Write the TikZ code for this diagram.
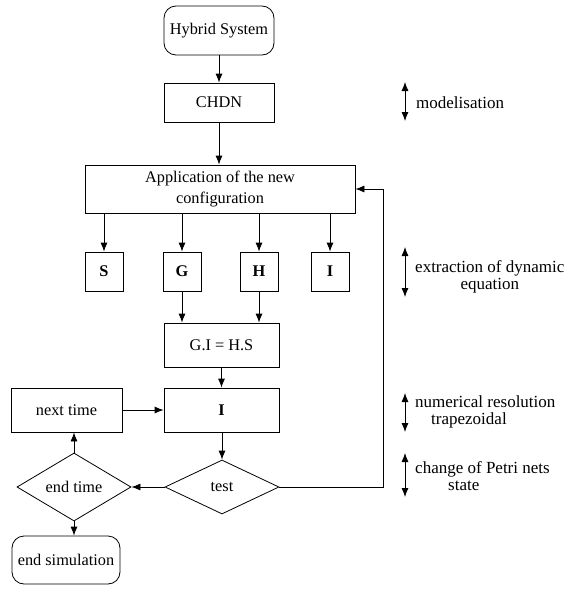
\documentclass[tikz,border=0pt]{standalone}
\usepackage{fontspec}
\setmainfont{Liberation Serif}
\usetikzlibrary{shapes.geometric,arrows.meta}

\begin{document}
\begin{tikzpicture}[x=1pt,y=-1pt,>={Latex[length=9pt,width=7pt]},
    every node/.style={font=\fontsize{16.3}{19}\selectfont},
    box/.style={draw, line width=0.8pt, inner sep=0pt},
    rbox/.style={box, rounded corners=12pt},
    mbox/.style={box, minimum width=38pt, minimum height=39pt, font=\fontsize{16.3}{19}\selectfont\bfseries},
    dmd/.style={draw, diamond, line width=0.8pt, inner sep=0pt},
    flow/.style={->, line width=0.8pt},
    side/.style={font=\fontsize{17}{17.5}\selectfont, anchor=west, inner sep=0pt}]

    \useasboundingbox (0,0) rectangle (576,589);

    % colonne principale
    \node[rbox, minimum width=110pt, minimum height=49pt] (hybrid) at (219,30.5) {Hybrid System};
    \node[box, minimum width=110pt, minimum height=39pt] (chdn) at (219,102.5) {CHDN};
    \node[box, minimum width=270pt, minimum height=48pt, align=center,
          font=\fontsize{16.3}{21}\selectfont] (app) at (220,189) {Application of the new\\configuration};

    % matrices
    \node[mbox] (S) at (104,271.5) {S};
    \node[mbox] (G) at (182,271.5) {G};
    \node[mbox] (H) at (259,271.5) {H};
    \node[mbox] (Ia) at (330,271.5) {I};

    \node[box, minimum width=115pt, minimum height=44pt] (eq) at (221.5,345) {G.I = H.S};
    \node[box, minimum width=115pt, minimum height=44pt, font=\fontsize{16.3}{19}\selectfont\bfseries] (Ib) at (221.5,410) {I};
    \node[box, minimum width=111pt, minimum height=44pt] (next) at (66.5,410) {next time};
    \node[dmd, minimum width=114pt, minimum height=54pt] (test) at (222,487) {test};
    \node[dmd, minimum width=114pt, minimum height=54pt] (endt) at (74,487) {end time};
    \node[rbox, minimum width=108pt, minimum height=48pt] (endsim) at (66,560) {end simulation};

    \draw[flow] (hybrid) -- (chdn);
    \draw[flow] (chdn) -- (chdn.south |- app.north);
    \foreach \m in {S,G,H,Ia}
        \draw[flow] (app.south -| \m.north) -- (\m.north);
    \draw[flow] (G.south) -- (G.south |- eq.north);
    \draw[flow] (H.south) -- (H.south |- eq.north);
    \draw[flow] (eq) -- (Ib);
    \draw[flow] (next) -- (Ib);
    \draw[flow] (Ib.south -| test.north) -- (test.north);
    \draw[flow] (test) -- (endt);
    \draw[flow] (endt.north) -- (endt.north |- next.south);
    \draw[flow] (endt.south) -- (endt.south |- endsim.north);

    % retour vers la configuration
    \coordinate (back) at (383,487);
    \draw[flow] (test.east) -- (back) |- (app.east);

    % phases
    \coordinate (m1) at (405,82);  \coordinate (m2) at (405,121);
    \coordinate (e1) at (405,247); \coordinate (e2) at (405,297);
    \coordinate (n1) at (405,393); \coordinate (n2) at (405,432);
    \coordinate (c1) at (405,453); \coordinate (c2) at (405,497);
    \foreach \a/\b in {m1/m2,e1/e2,n1/n2,c1/c2}
        \draw[<->, line width=0.8pt] (\a) -- (\b);

    \node[side] (modl) at (416,103) {modelisation};
    \node[side, align=center] (extr) at (415,277) {extraction of dynamic\\equation};
    \node[side, align=left] (numr) at (415,412) {numerical resolution\\\hspace*{16pt}trapezoidal};
    \node[side, align=left] (chg) at (415,476) {change of Petri nets\\\hspace*{33pt}state};
\end{tikzpicture}
\end{document}
